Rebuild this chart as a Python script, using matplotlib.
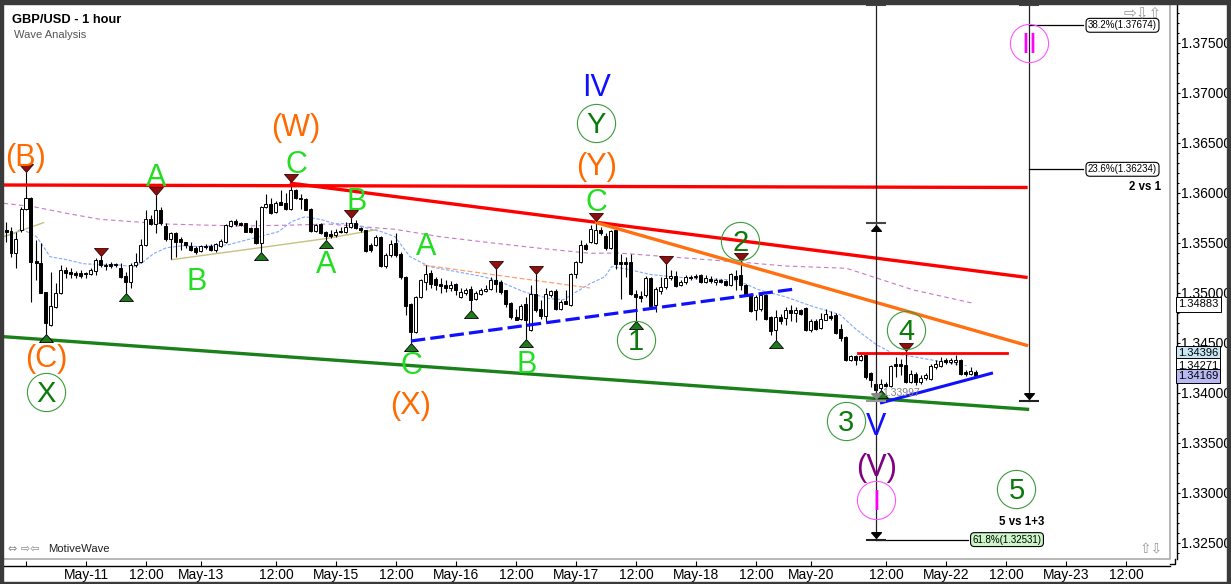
import matplotlib
matplotlib.use('Agg')
from matplotlib import pyplot as plt
from matplotlib.lines import Line2D
from matplotlib.patches import Rectangle
import numpy as np

plt.rcParams['font.family'] = ['Liberation Sans', 'DejaVu Sans']

# velas de 1 hora GBP/USD
opens = [1.3563, 1.3562, 1.3540, 1.3563, 1.3584, 1.3595, 1.3532, 1.3530, 1.3501, 1.3468,
         1.3486, 1.3500, 1.3523, 1.3521, 1.3520, 1.3520, 1.3520, 1.3519, 1.3522, 1.3533,
         1.3528, 1.3529, 1.3529, 1.3525, 1.3517, 1.3511, 1.3528, 1.3531, 1.3548, 1.3574,
         1.3569, 1.3583, 1.3567, 1.3554, 1.3560, 1.3554, 1.3551, 1.3547, 1.3545, 1.3542,
         1.3547, 1.3547, 1.3543, 1.3547, 1.3551, 1.3567, 1.3572, 1.3570, 1.3570, 1.3565,
         1.3565, 1.3550, 1.3586, 1.3589, 1.3581, 1.3591, 1.3590, 1.3584, 1.3603, 1.3595,
         1.3594, 1.3584, 1.3562, 1.3569, 1.3561, 1.3559, 1.3558, 1.3562, 1.3561, 1.3566,
         1.3570, 1.3565, 1.3563, 1.3548, 1.3548, 1.3556, 1.3527, 1.3538, 1.3550, 1.3539,
         1.3516, 1.3489, 1.3461, 1.3496, 1.3511, 1.3520, 1.3514, 1.3509, 1.3508, 1.3505,
         1.3509, 1.3496, 1.3500, 1.3504, 1.3494, 1.3499, 1.3502, 1.3504, 1.3513, 1.3511,
         1.3503, 1.3490, 1.3476, 1.3474, 1.3489, 1.3463, 1.3499, 1.3484, 1.3477, 1.3498,
         1.3502, 1.3484, 1.3492, 1.3488, 1.3519, 1.3531, 1.3548, 1.3551, 1.3550, 1.3563,
         1.3557, 1.3545, 1.3563, 1.3531, 1.3531, 1.3531, 1.3499, 1.3497, 1.3498, 1.3515,
         1.3488, 1.3502, 1.3506, 1.3515, 1.3517, 1.3508, 1.3511, 1.3516, 1.3516, 1.3518,
         1.3511, 1.3514, 1.3511, 1.3513, 1.3512, 1.3508, 1.3517, 1.3518, 1.3508, 1.3499,
         1.3483, 1.3484, 1.3498, 1.3476, 1.3463, 1.3476, 1.3475, 1.3483, 1.3480, 1.3483,
         1.3485, 1.3463, 1.3472, 1.3465, 1.3473, 1.3477, 1.3478, 1.3464, 1.3456, 1.3433,
         1.3437, 1.3433, 1.3438, 1.3420, 1.3409, 1.3405, 1.3409, 1.3407, 1.3429, 1.3429,
         1.3428, 1.3411, 1.3419, 1.3411, 1.3415, 1.3414, 1.3426, 1.3427, 1.3433, 1.3431,
         1.3431, 1.3433, 1.3421, 1.3419, 1.3421]
highs = [1.3571, 1.3566, 1.3561, 1.3586, 1.3621, 1.3596, 1.3553, 1.3550, 1.3501, 1.3521,
         1.3510, 1.3528, 1.3526, 1.3525, 1.3522, 1.3523, 1.3521, 1.3525, 1.3535, 1.3537,
         1.3530, 1.3531, 1.3530, 1.3530, 1.3521, 1.3530, 1.3540, 1.3554, 1.3583, 1.3578,
         1.3598, 1.3586, 1.3570, 1.3561, 1.3561, 1.3556, 1.3551, 1.3551, 1.3547, 1.3548,
         1.3549, 1.3549, 1.3550, 1.3554, 1.3569, 1.3573, 1.3574, 1.3571, 1.3570, 1.3566,
         1.3573, 1.3587, 1.3599, 1.3595, 1.3592, 1.3603, 1.3600, 1.3611, 1.3604, 1.3599,
         1.3595, 1.3585, 1.3569, 1.3570, 1.3562, 1.3563, 1.3564, 1.3566, 1.3571, 1.3575,
         1.3573, 1.3566, 1.3563, 1.3550, 1.3558, 1.3557, 1.3540, 1.3553, 1.3560, 1.3541,
         1.3517, 1.3490, 1.3497, 1.3514, 1.3528, 1.3523, 1.3516, 1.3515, 1.3513, 1.3512,
         1.3510, 1.3505, 1.3505, 1.3507, 1.3502, 1.3505, 1.3508, 1.3516, 1.3524, 1.3513,
         1.3503, 1.3491, 1.3484, 1.3489, 1.3496, 1.3508, 1.3519, 1.3493, 1.3505, 1.3503,
         1.3504, 1.3493, 1.3503, 1.3520, 1.3532, 1.3553, 1.3550, 1.3568, 1.3572, 1.3566,
         1.3560, 1.3563, 1.3564, 1.3539, 1.3536, 1.3539, 1.3503, 1.3502, 1.3517, 1.3516,
         1.3506, 1.3516, 1.3529, 1.3523, 1.3522, 1.3513, 1.3518, 1.3518, 1.3519, 1.3519,
         1.3518, 1.3517, 1.3515, 1.3514, 1.3513, 1.3520, 1.3523, 1.3532, 1.3509, 1.3500,
         1.3498, 1.3500, 1.3499, 1.3477, 1.3483, 1.3479, 1.3486, 1.3488, 1.3486, 1.3484,
         1.3486, 1.3474, 1.3474, 1.3480, 1.3484, 1.3482, 1.3480, 1.3469, 1.3457, 1.3438,
         1.3438, 1.3439, 1.3439, 1.3421, 1.3411, 1.3414, 1.3411, 1.3428, 1.3436, 1.3434,
         1.3442, 1.3423, 1.3421, 1.3418, 1.3420, 1.3429, 1.3433, 1.3436, 1.3435, 1.3435,
         1.3438, 1.3434, 1.3423, 1.3426, 1.3423]
lows = [1.3551, 1.3536, 1.3525, 1.3561, 1.3583, 1.3491, 1.3513, 1.3500, 1.3459, 1.3467,
        1.3485, 1.3499, 1.3515, 1.3515, 1.3515, 1.3515, 1.3515, 1.3518, 1.3518, 1.3526,
        1.3523, 1.3525, 1.3526, 1.3515, 1.3500, 1.3505, 1.3526, 1.3530, 1.3547, 1.3568,
        1.3560, 1.3568, 1.3552, 1.3534, 1.3536, 1.3543, 1.3545, 1.3542, 1.3539, 1.3541,
        1.3544, 1.3542, 1.3541, 1.3546, 1.3550, 1.3566, 1.3567, 1.3567, 1.3561, 1.3560,
        1.3549, 1.3541, 1.3585, 1.3579, 1.3580, 1.3588, 1.3583, 1.3583, 1.3594, 1.3584,
        1.3583, 1.3561, 1.3561, 1.3559, 1.3553, 1.3555, 1.3556, 1.3560, 1.3560, 1.3565,
        1.3564, 1.3561, 1.3541, 1.3541, 1.3547, 1.3526, 1.3525, 1.3536, 1.3536, 1.3514,
        1.3478, 1.3450, 1.3460, 1.3495, 1.3503, 1.3505, 1.3503, 1.3500, 1.3501, 1.3502,
        1.3498, 1.3495, 1.3498, 1.3483, 1.3493, 1.3498, 1.3501, 1.3503, 1.3501, 1.3499,
        1.3486, 1.3474, 1.3473, 1.3473, 1.3454, 1.3462, 1.3481, 1.3474, 1.3471, 1.3496,
        1.3483, 1.3483, 1.3489, 1.3487, 1.3515, 1.3530, 1.3543, 1.3550, 1.3549, 1.3558,
        1.3543, 1.3544, 1.3524, 1.3494, 1.3516, 1.3498, 1.3472, 1.3491, 1.3496, 1.3486,
        1.3481, 1.3499, 1.3504, 1.3513, 1.3506, 1.3507, 1.3509, 1.3513, 1.3514, 1.3510,
        1.3510, 1.3510, 1.3508, 1.3510, 1.3507, 1.3507, 1.3503, 1.3503, 1.3498, 1.3481,
        1.3473, 1.3482, 1.3473, 1.3458, 1.3453, 1.3469, 1.3468, 1.3472, 1.3471, 1.3478,
        1.3462, 1.3461, 1.3463, 1.3464, 1.3473, 1.3473, 1.3459, 1.3452, 1.3432, 1.3432,
        1.3428, 1.3432, 1.3414, 1.3406, 1.33997, 1.3403, 1.3406, 1.3406, 1.3416, 1.3418,
        1.3410, 1.3410, 1.3408, 1.3409, 1.3413, 1.3413, 1.3424, 1.3426, 1.3429, 1.3429,
        1.3428, 1.3418, 1.3417, 1.3418, 1.3416]
closes = [1.3561, 1.3540, 1.3554, 1.3584, 1.3595, 1.3531, 1.3530, 1.3500, 1.3470, 1.3487,
          1.3500, 1.3523, 1.3520, 1.3519, 1.3518, 1.3517, 1.3519, 1.3523, 1.3533, 1.3528,
          1.3527, 1.3527, 1.3528, 1.3516, 1.3511, 1.3528, 1.3531, 1.3548, 1.3574, 1.3569,
          1.3583, 1.3570, 1.3554, 1.3560, 1.3551, 1.3551, 1.3548, 1.3543, 1.3541, 1.3547,
          1.3546, 1.3543, 1.3549, 1.3552, 1.3568, 1.3572, 1.3569, 1.3568, 1.3561, 1.3561,
          1.3550, 1.3586, 1.3589, 1.3580, 1.3590, 1.3588, 1.3584, 1.3603, 1.3595, 1.3594,
          1.3583, 1.3562, 1.3568, 1.3560, 1.3557, 1.3557, 1.3561, 1.3561, 1.3566, 1.3570,
          1.3565, 1.3563, 1.3542, 1.3543, 1.3556, 1.3527, 1.3538, 1.3549, 1.3538, 1.3516,
          1.3487, 1.3461, 1.3496, 1.3513, 1.3519, 1.3509, 1.3508, 1.3507, 1.3505, 1.3508,
          1.3503, 1.3501, 1.3503, 1.3493, 1.3500, 1.3503, 1.3504, 1.3513, 1.3509, 1.3501,
          1.3489, 1.3476, 1.3473, 1.3487, 1.3473, 1.3499, 1.3483, 1.3477, 1.3499, 1.3502,
          1.3484, 1.3491, 1.3489, 1.3519, 1.3531, 1.3548, 1.3544, 1.3564, 1.3563, 1.3560,
          1.3545, 1.3562, 1.3529, 1.3529, 1.3529, 1.3499, 1.3496, 1.3495, 1.3515, 1.3487,
          1.3504, 1.3506, 1.3515, 1.3517, 1.3507, 1.3511, 1.3516, 1.3515, 1.3517, 1.3511,
          1.3515, 1.3512, 1.3513, 1.3511, 1.3508, 1.3519, 1.3514, 1.3508, 1.3499, 1.3482,
          1.3496, 1.3498, 1.3474, 1.3462, 1.3476, 1.3472, 1.3483, 1.3480, 1.3483, 1.3479,
          1.3463, 1.3472, 1.3464, 1.3474, 1.3479, 1.3475, 1.3460, 1.3455, 1.3433, 1.3437,
          1.3433, 1.3437, 1.3416, 1.3413, 1.3403, 1.3409, 1.3407, 1.3427, 1.3427, 1.3427,
          1.3411, 1.3419, 1.3411, 1.3415, 1.3418, 1.3427, 1.3429, 1.3432, 1.3431, 1.3433,
          1.3433, 1.3419, 1.3419, 1.3422, 1.3417]

# medias moviles (indice de vela, precio)
ma_lenta_x = [-0.5, 5.5, 12.1, 18.8, 25.5, 32.1, 38.8, 47.8, 57.8, 64.4, 71.1, 77.8, 86.8,
              96.8, 106.8, 116.8, 122.4, 135.8, 149.0, 155.8, 168.1, 181.5, 193.5]
ma_lenta_y = [1.35894, 1.35860, 1.35794, 1.35734, 1.35710, 1.35687, 1.35677, 1.35667,
              1.35677, 1.35687, 1.35660, 1.35634, 1.35560, 1.35500, 1.35444, 1.35394,
              1.35397, 1.35347, 1.35297, 1.35267, 1.35244, 1.35027, 1.34894]
ma_rapida_x = [-0.5, 1.5, 3.1, 6.1, 7.5, 8.8, 12.1, 15.5, 18.8, 22.1, 25.5, 27.5, 29.5, 32.1,
               35.5, 38.8, 44.5, 49.8, 54.5, 57.1, 59.8, 63.1, 65.8, 69.8, 72.5, 75.1, 77.8,
               80.8, 84.8, 90.1, 95.5, 98.8, 103.5, 108.8, 111.5, 114.1, 116.8, 119.8, 121.1,
               123.8, 129.1, 137.8, 145.1, 147.8, 150.5, 155.8, 161.5, 166.8, 170.1, 174.1,
               177.5, 181.5, 184.8, 189.5, 192.1]
ma_rapida_y = [1.3556, 1.3559, 1.3564, 1.3556, 1.3546, 1.3536, 1.3533, 1.3529, 1.3528, 1.3528,
               1.3526, 1.3531, 1.3539, 1.3545, 1.3547, 1.3546, 1.3548, 1.3555, 1.3561, 1.3571,
               1.3576, 1.3573, 1.3569, 1.3569, 1.3564, 1.3561, 1.3556, 1.3536, 1.3526, 1.3521,
               1.3516, 1.3511, 1.3501, 1.3494, 1.3493, 1.3501, 1.3509, 1.3516, 1.3526, 1.3524,
               1.3518, 1.3514, 1.3513, 1.3509, 1.3503, 1.3496, 1.3486, 1.3478, 1.3463, 1.3448,
               1.3439, 1.3436, 1.3433, 1.3429, 1.3427]
tan_x = [33.1, 50.8, 63.8, 74.1]
tan_y = [1.3533, 1.3545, 1.3554, 1.3563]

# marcadores de pivotes (indices de vela)
piv_alto = [4, 19, 30, 57, 69, 98, 106, 118, 132, 147, 180]
piv_bajo = [8, 24, 51, 64, 81, 93, 104, 126, 154, 175]

# etiquetas de ondas: texto, indice, precio, color
ondas = [
    ('(B)', 4.0, 1.3638, '#ff6a00'), ('A', 30.1, 1.3618, '#22dd22'),
    ('(W)', 57.9, 1.3668, '#ff6a00'), ('C', 58.0, 1.3631, '#22dd22'),
    ('B', 70.1, 1.3594, '#22dd22'), ('B', 38.1, 1.3514, '#22dd22'),
    ('A', 64.1, 1.3531, '#22dd22'), ('(C)', 8.1, 1.3437, '#ff6a00'),
    ('A', 84.1, 1.3549, '#22dd22'), ('C', 81.1, 1.3430, '#22dd22'),
    ('(X)', 81.0, 1.3390, '#ff6a00'), ('B', 104.1, 1.3431, '#22dd22'),
    ('IV', 118.1, 1.3708, '#1010ff'), ('(Y)', 118.1, 1.3629, '#ff6a00'),
    ('C', 118.1, 1.3593, '#22dd22'), ('V', 174.1, 1.3369, '#1010ff'),
    ('(V)', 174.1, 1.3328, '#800080'),
]
circulos = [
    ('X', 8.1, 1.3401, '#0a7a0a', '#3c9c3c'), ('Y', 118.0, 1.3670, '#0a7a0a', '#3c9c3c'),
    ('1', 126.0, 1.3453, '#0a7a0a', '#3c9c3c'), ('2', 146.9, 1.3552, '#0a7a0a', '#3c9c3c'),
    ('3', 168.1, 1.3372, '#0a7a0a', '#3c9c3c'), ('4', 180.0, 1.3463, '#0a7a0a', '#3c9c3c'),
    ('5', 202.1, 1.3304, '#0a7a0a', '#3c9c3c'), ('I', 174.0, 1.3293, '#ff00ff', '#ff55ff'),
    ('II', 204.7, 1.3750, '#ff00ff', '#ff55ff'),
]

# ejes x
tick_x = [4.1, 16.1, 28.1, 39.1, 54.1, 66.1, 78.1, 90.1, 102.1, 114.1, 126.1, 138.1,
          150.1, 161.1, 176.1, 188.1, 200.1, 212.1, 224.1]
tick_txt = ['', 'May-11', '12:00', 'May-13', '12:00', 'May-15', '12:00', 'May-16', '12:00',
            'May-17', '12:00', 'May-18', '12:00', 'May-20', '12:00', 'May-22', '12:00',
            'May-23', '12:00']

W, H = 1231, 584
fig = plt.figure(figsize=(W / 100, H / 100), dpi=100)
ax = fig.add_axes([4 / W, (H - 559) / H, (1170 - 4) / W, (559 - 5) / H])
ax.set_xlim(-0.4, 232.8)
ax.set_ylim(1.32337, 1.37877)

# velas
o = np.array(opens); h = np.array(highs); l = np.array(lows); c = np.array(closes)
x = np.arange(len(c))
sube = c >= o
ax.vlines(x, l, h, color='black', lw=0.8, zorder=2)
base = np.minimum(o, c)
alto = np.maximum(np.abs(c - o), 0.00004)
ax.bar(x[sube], alto[sube], bottom=base[sube], width=0.6, color='white',
       edgecolor='black', linewidth=0.7, zorder=3)
ax.bar(x[~sube], alto[~sube], bottom=base[~sube], width=0.6, color='black',
       edgecolor='black', linewidth=0.7, zorder=3)

# medias moviles
ax.plot(ma_lenta_x, ma_lenta_y, color='#c878c8', lw=0.8, dashes=(4, 3), zorder=1)
ax.plot(ma_rapida_x, ma_rapida_y, color='#80a8ff', lw=0.8, dashes=(3, 1.5), zorder=1)
ax.plot([83.4, 116.8], [1.35277, 1.35047], color='#ffa070', lw=0.9, dashes=(4, 2), zorder=1)
ax.plot(tan_x, tan_y, color='#c8c080', lw=1, zorder=1)
ax.plot([-0.5, 7.5], [1.3556, 1.3570], color='#c8c080', lw=1, zorder=1)

# lineas de tendencia
ax.plot([-0.4, 204], [1.36077, 1.36052], color='#ff0000', lw=2.4, zorder=4)
ax.plot([57.1, 204], [1.36094, 1.35154], color='#ff0000', lw=2.4, zorder=4)
ax.plot([118.1, 204.1], [1.35700, 1.34474], color='#ff7010', lw=2.4, zorder=4)
ax.plot([-0.4, 204.3], [1.34560, 1.33834], color='#1a801a', lw=2.4, zorder=4)
ax.plot([170.5, 200.3], [1.34402, 1.34402], color='#ff0000', lw=2.0, zorder=4)
ax.plot([175.1, 197.1], [1.33900, 1.34194], color='#1010ff', lw=2.2, zorder=4)
ax.plot([81, 157.8], [1.34517, 1.35037], color='#1010ff', lw=2.3, dashes=(4.5, 1.6), zorder=4)

# marcadores de pivote
tri_abajo = [(-7, 4), (7, 4), (0, -4), (-7, 4)]
tri_arriba = [(-7, -4), (7, -4), (0, 4), (-7, -4)]
ax.plot(x[piv_alto], h[piv_alto] + 0.0004, ls='none', marker=tri_abajo, ms=10,
        mfc='#8b1010', mec='#3a0000', mew=0.6, zorder=5)
ax.plot(x[piv_bajo], l[piv_bajo] - 0.0004, ls='none', marker=tri_arriba, ms=10,
        mfc='#1f7a1f', mec='black', mew=0.6, zorder=5)

# lineas fibonacci
f1, f2 = 174.1, 204.7
ax.plot([f1, f1], [1.37877, 1.32531], color='#222222', lw=0.9, zorder=4)
ax.plot([f2, f2], [1.37877, 1.3392], color='#222222', lw=0.9, zorder=4)
ax.plot([f1, f1, f2], [1.37877, 1.35700, 1.37877], ls='none', marker='_', ms=14, mew=1.5,
        color='#444444', zorder=5)
ax.plot([f1, f2], [1.32531, 1.3392], ls='none', marker='_', ms=14, mew=1.5,
        color='#222222', zorder=5)
ax.plot([f1], [1.3392], ls='none', marker='_', ms=14, mew=1.5, color='#999999', zorder=5)
ax.plot([f1], [1.35650], ls='none', marker=tri_arriba, ms=7, color='black', zorder=5)
ax.plot([f1], [1.32580], ls='none', marker=tri_abajo, ms=7, color='black', zorder=5)
ax.plot([f2], [1.33965], ls='none', marker=tri_abajo, ms=7, color='black', zorder=5)
ax.plot([f1], [1.33965], ls='none', marker=tri_abajo, ms=7, color='#888888', zorder=5)
ax.plot([f2, 215.4], [1.37674, 1.37674], color='black', lw=0.9, zorder=4)
ax.plot([f2, 215.4], [1.36234, 1.36234], color='black', lw=0.9, zorder=4)
ax.plot([f1, 192.4], [1.32531, 1.32531], color='black', lw=0.9, zorder=4)

caja = dict(boxstyle='round,pad=0.2,rounding_size=0.4', fc='white', ec='black', lw=0.8)
ax.text(223.3, 1.37674, '38.2%(1.37674)', fontsize=7, ha='center', va='center', bbox=caja, zorder=6)
ax.text(223.3, 1.36234, '23.6%(1.36234)', fontsize=7, ha='center', va='center', bbox=caja, zorder=6)
ax.text(200.2, 1.32531, '61.8%(1.32531)', fontsize=7, ha='center', va='center',
        bbox=dict(caja, fc='#ccf5c8'), zorder=6)
ax.text(231.0, 1.3606, '2 vs 1', fontsize=8.3, fontweight='bold', ha='right', va='center', zorder=6)
ax.text(203.2, 1.32704, '5 vs 1+3', fontsize=8.3, fontweight='bold', ha='center', va='center', zorder=6)
ax.text(175.3, 1.33994, '1.33997', fontsize=7.5, color='#808080', ha='left', va='center', zorder=6)

# etiquetas de ondas
for txt, xi, p, col in ondas:
    ax.annotate(txt, (xi, p), xytext=(0, -0.36 * 22), textcoords='offset points',
                ha='center', va='baseline', fontsize=22, color=col, zorder=7)
for txt, xi, p, col, borde in circulos:
    ax.annotate(txt, (xi, p), xytext=(0, -0.36 * 21), textcoords='offset points',
                ha='center', va='baseline', fontsize=21, color=col, zorder=7)
    ax.plot(xi, p, 'o', ms=27.5, mfc='none', mec=borde, mew=0.8, zorder=7)

# ejes
ax.set_xticks(tick_x)
ax.set_xticklabels(tick_txt, fontsize=8.3)
ax.yaxis.tick_right()
ax.set_yticks(np.arange(1.325, 1.3751, 0.005))
ax.set_yticklabels(['%.5f' % v for v in np.arange(1.325, 1.3751, 0.005)], fontsize=8.0)
ax.set_yticks(np.arange(1.324, 1.3785, 0.001), minor=True)
ax.tick_params(axis='y', which='major', direction='out', length=2.4, width=0.8, pad=0.4)
ax.tick_params(axis='y', which='minor', direction='out', length=1.6, width=0.8)
ax.tick_params(axis='x', direction='in', length=3.6, width=0.8, pad=1.5)
for lado in ['top', 'left']:
    ax.spines[lado].set_visible(False)
ax.spines['right'].set_position(('outward', 5))
ax.spines['bottom'].set_position(('outward', 5))
ax.spines['right'].set_linewidth(1)
ax.spines['bottom'].set_linewidth(1)
ax.add_line(Line2D([0, 1, 1], [0, 0, 1], transform=ax.transAxes, color='#aaaaaa',
                   lw=1.2, clip_on=False))
fig.add_artist(Line2D([1170 / W, 1175 / W, 1175 / W], [1 - 564 / H, 1 - 564 / H, 1 - 559 / H],
                      color='black', lw=1))

# etiquetas de precio a la derecha
ty = ax.get_yaxis_transform()
precios_caja = [(1.34883, 'white'), (1.34396, '#c8e6f4'), (1.34271, 'white'), (1.34169, '#b8b8f2')]
for p, fc in precios_caja:
    ax.text(1.0068, p, '%.5f' % p, transform=ty, fontsize=8.0, ha='left', va='center',
            bbox=dict(boxstyle='square,pad=0.2', fc=fc, ec='black', lw=0.7),
            clip_on=False, zorder=8)

# textos del encabezado y marco
fig.text(12 / W, 1 - 22.7 / H, 'GBP/USD - 1 hour', fontsize=9.3, fontweight='bold', va='baseline')
fig.text(14 / W, 1 - 37.5 / H, 'Wave Analysis', fontsize=8, color='#555555', va='baseline')
fig.text(8 / W, 1 - 549 / H, '\u21d4 \u21e8\u21e6', fontsize=8, color='#888888', va='center',
         family='DejaVu Sans')
fig.text(48 / W, 1 - 549 / H, 'MotiveWave', fontsize=8.1, color='#222222', va='center')
fig.text(1123 / W, 1 - 14 / H, '\u21e8\u21e9\u21e7', fontsize=11, color='#999999', va='center',
         family='DejaVu Sans')
fig.text(1140 / W, 1 - 549 / H, '\u21e7\u21e9', fontsize=10, color='#999999', va='center',
         family='DejaVu Sans')
fig.add_artist(Rectangle((0, 1 - 4 / H), 1, 4 / H, transform=fig.transFigure, color='#3a3a3a'))
fig.add_artist(Rectangle((0, 0), 3.3 / W, 1, transform=fig.transFigure, color='#3a3a3a'))
fig.add_artist(Rectangle((1226.5 / W, 0), 4.5 / W, 1, transform=fig.transFigure, color='#3a3a3a'))
fig.add_artist(Rectangle((0, 0), 1, 2.5 / H, transform=fig.transFigure, color='#3a3a3a'))

fig.savefig('out.png', dpi=100)
